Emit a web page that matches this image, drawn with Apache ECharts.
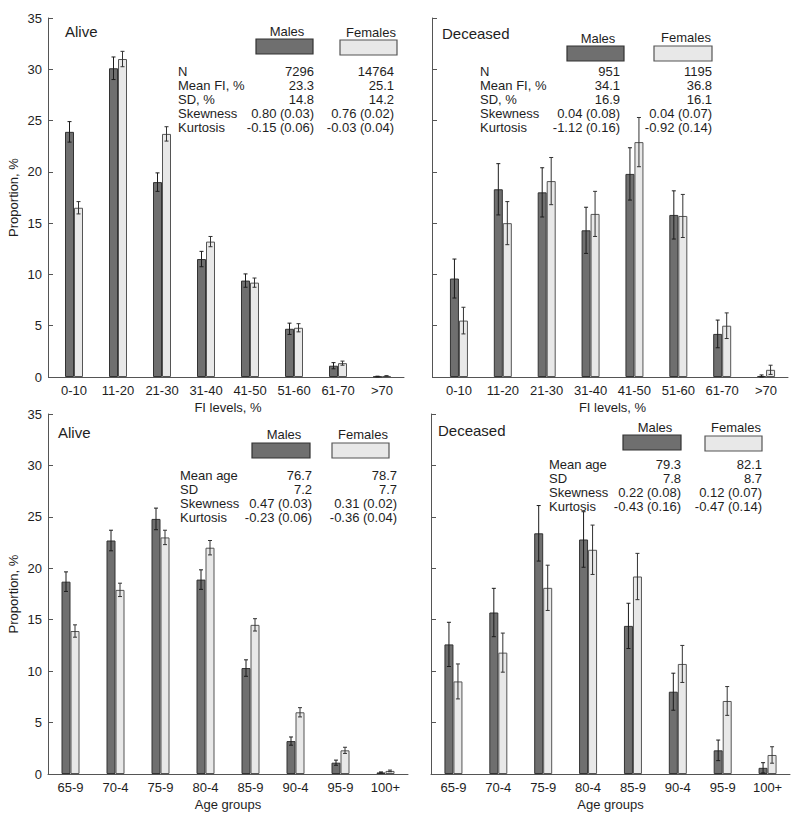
<!DOCTYPE html>
<html>
<head>
<meta charset="utf-8">
<script src="https://cdn.jsdelivr.net/npm/echarts@6/dist/echarts.min.js"></script>
<style>
html,body{margin:0;padding:0;background:#fff;}
#chart{width:800px;height:821px;}
</style>
</head>
<body>
<div id="chart"></div>
<script>
// ---------- Data ----------
const fiCategories = ['0-10','11-20','21-30','31-40','41-50','51-60','61-70','>70'];
const ageCategories = ['65-9','70-4','75-9','80-4','85-9','90-4','95-9','100+'];
const yTicks = [0,5,10,15,20,25,30,35];

// Panel A: Alive by FI level
const aliveFiMale      = [23.9, 30.1, 19.0, 11.5, 9.4, 4.7, 1.1, 0.05];
const aliveFiMaleErr   = [1.0, 1.1, 0.9, 0.75, 0.65, 0.55, 0.3, 0.03];
const aliveFiFemale    = [16.5, 31.0, 23.7, 13.2, 9.2, 4.8, 1.35, 0.1];
const aliveFiFemaleErr = [0.6, 0.75, 0.7, 0.5, 0.45, 0.4, 0.2, 0.03];

// Panel B: Deceased by FI level
const deadFiMale      = [9.6, 18.3, 18.0, 14.3, 19.8, 15.8, 4.2, 0.1];
const deadFiMaleErr   = [1.9, 2.5, 2.4, 2.25, 2.55, 2.35, 1.35, 0.1];
const deadFiFemale    = [5.5, 15.0, 19.1, 15.9, 22.9, 15.7, 5.0, 0.7];
const deadFiFemaleErr = [1.3, 2.1, 2.3, 2.2, 2.4, 2.1, 1.25, 0.45];

// Panel C: Alive by age group
const aliveAgeMale      = [18.7, 22.7, 24.8, 18.9, 10.3, 3.2, 1.1, 0.15];
const aliveAgeMaleErr   = [0.95, 1.0, 1.05, 0.95, 0.8, 0.4, 0.25, 0.05];
const aliveAgeFemale    = [13.9, 17.9, 23.0, 22.0, 14.5, 6.0, 2.3, 0.3];
const aliveAgeFemaleErr = [0.6, 0.65, 0.7, 0.7, 0.6, 0.45, 0.3, 0.08];

// Panel D: Deceased by age group
const deadAgeMale      = [12.6, 15.7, 23.4, 22.8, 14.4, 8.0, 2.3, 0.6];
const deadAgeMaleErr   = [2.15, 2.35, 2.7, 2.7, 2.2, 1.8, 1.0, 0.5];
const deadAgeFemale    = [9.0, 11.8, 18.1, 21.8, 19.2, 10.7, 7.1, 1.85];
const deadAgeFemaleErr = [1.7, 1.9, 2.2, 2.4, 2.25, 1.8, 1.4, 0.8];

// Stats tables
const fiStatLabels = ['N','Mean FI, %','SD, %','Skewness','Kurtosis'];
const aliveFiStatsMale   = ['7296','23.3','14.8','0.80 (0.03)','-0.15 (0.06)'];
const aliveFiStatsFemale = ['14764','25.1','14.2','0.76 (0.02)','-0.03 (0.04)'];
const deadFiStatsMale    = ['951','34.1','16.9','0.04 (0.08)','-1.12 (0.16)'];
const deadFiStatsFemale  = ['1195','36.8','16.1','0.04 (0.07)','-0.92 (0.14)'];
const ageStatLabels = ['Mean age','SD','Skewness','Kurtosis'];
const aliveAgeStatsMale   = ['76.7','7.2','0.47 (0.03)','-0.23 (0.06)'];
const aliveAgeStatsFemale = ['78.7','7.7','0.31 (0.02)','-0.36 (0.04)'];
const deadAgeStatsMale    = ['79.3','7.8','0.22 (0.08)','-0.43 (0.16)'];
const deadAgeStatsFemale  = ['82.1','8.7','0.12 (0.07)','-0.47 (0.14)'];

const panelTitles = ['Alive','Deceased','Alive','Deceased'];
const xNames = ['FI levels, %','FI levels, %','Age groups','Age groups'];
const yName = 'Proportion, %';
const legendNames = ['Males','Females'];

// ---------- Styles ----------
const FONT = '"Liberation Sans", Arial, sans-serif';
const TXT = '#1e1e1e';
const AX = '#555';
const MALE_FILL = '#6f6f6f', MALE_EDGE = '#333';
const FEM_FILL = '#e8e8e8', FEM_EDGE = '#555';
const BW = 9;

const grids = [
  {left: 52, top: 18, width: 352, height: 359},
  {left: 437, top: 18, width: 351, height: 359},
  {left: 48, top: 414, width: 360, height: 360},
  {left: 431, top: 414, width: 359, height: 360}
];
const yOffsets = [4, 5, 0, 0];

const panels = [
  {cats: fiCategories, m: aliveFiMale, me: aliveFiMaleErr, f: aliveFiFemale, fe: aliveFiFemaleErr},
  {cats: fiCategories, m: deadFiMale, me: deadFiMaleErr, f: deadFiFemale, fe: deadFiFemaleErr},
  {cats: ageCategories, m: aliveAgeMale, me: aliveAgeMaleErr, f: aliveAgeFemale, fe: aliveAgeFemaleErr},
  {cats: ageCategories, m: deadAgeMale, me: deadAgeMaleErr, f: deadAgeFemale, fe: deadAgeFemaleErr}
];

function errRender(side, color){
  return function(params, api){
    const i = api.value(0), v = api.value(1), e = api.value(2);
    const hi = api.coord([i, v + e]);
    const lo = api.coord([i, Math.max(0, v - e)]);
    const x = hi[0] + side * BW / 2;
    const st = {stroke: color, lineWidth: 1};
    return {type: 'group', children: [
      {type: 'line', shape: {x1: x, y1: hi[1], x2: x, y2: lo[1]}, style: st},
      {type: 'line', shape: {x1: x - 2, y1: hi[1], x2: x + 2, y2: hi[1]}, style: st},
      {type: 'line', shape: {x1: x - 2, y1: lo[1], x2: x + 2, y2: lo[1]}, style: st}
    ]};
  };
}

const xAxes = [], yAxes = [], series = [];
panels.forEach((p, k) => {
  xAxes.push({
    type: 'category', gridIndex: k, data: p.cats, boundaryGap: true,
    axisLine: {lineStyle: {color: AX, width: 1}}, axisTick: {show: false},
    axisLabel: {color: TXT, fontSize: 13, fontFamily: FONT, margin: 7, interval: 0},
    name: xNames[k], nameLocation: 'middle', nameGap: 24,
    nameTextStyle: {color: TXT, fontSize: 13, fontFamily: FONT}
  });
  yAxes.push({
    type: 'value', gridIndex: k, min: 0, max: 35, interval: 5, offset: yOffsets[k],
    splitLine: {show: false},
    axisLine: {show: true, lineStyle: {color: AX, width: 1}},
    axisTick: {show: true, inside: true, length: 5, lineStyle: {color: AX}},
    axisLabel: {show: k % 2 === 0, color: TXT, fontSize: 13, fontFamily: FONT, margin: 6},
    name: k % 2 === 0 ? yName : '', nameLocation: 'middle', nameGap: 28,
    nameTextStyle: {color: TXT, fontSize: 13, fontFamily: FONT}
  });
  series.push({
    type: 'bar', xAxisIndex: k, yAxisIndex: k, data: p.m, barWidth: BW, barGap: '0%',
    itemStyle: {color: MALE_FILL, borderColor: MALE_EDGE, borderWidth: 1}, silent: true
  });
  series.push({
    type: 'bar', xAxisIndex: k, yAxisIndex: k, data: p.f, barWidth: BW, barGap: '0%',
    itemStyle: {color: FEM_FILL, borderColor: FEM_EDGE, borderWidth: 1}, silent: true
  });
  series.push({
    type: 'custom', xAxisIndex: k, yAxisIndex: k, silent: true, z: 5,
    renderItem: errRender(-1, '#1c1c1c'),
    data: p.m.map((v, i) => [i, v, p.me[i]])
  });
  series.push({
    type: 'custom', xAxisIndex: k, yAxisIndex: k, silent: true, z: 5,
    renderItem: errRender(1, '#333'),
    data: p.f.map((v, i) => [i, v, p.fe[i]])
  });
});

// ---------- Annotation layouts (positions only) ----------
const layouts = [
  {title: [65, 31], mLab: [287, 31], mBox: [256, 39, 57, 15], fLab: [371, 32], fBox: [340, 40, 57, 15],
   lx: 178, mx: 314, fx: 394, y0: 71, labels: fiStatLabels, mv: aliveFiStatsMale, fv: aliveFiStatsFemale},
  {title: [442, 33], mLab: [598, 38], mBox: [567, 46, 57, 15], fLab: [686, 37], fBox: [654, 46, 58, 15],
   lx: 480, mx: 620, fx: 712, y0: 71, labels: fiStatLabels, mv: deadFiStatsMale, fv: deadFiStatsFemale},
  {title: [58, 432], mLab: [284, 434], mBox: [252, 443, 58, 15], fLab: [363, 434], fBox: [332, 443, 57, 15],
   lx: 180, mx: 312, fx: 397, y0: 475, labels: ageStatLabels, mv: aliveAgeStatsMale, fv: aliveAgeStatsFemale},
  {title: [438, 430], mLab: [655, 427], mBox: [623, 435, 58, 15], fLab: [736, 427], fBox: [705, 436, 57, 15],
   lx: 549, mx: 681, fx: 762, y0: 464, labels: ageStatLabels, mv: deadAgeStatsMale, fv: deadAgeStatsFemale}
];
const ROW = 14.1;
const graphics = [];
function txt(x, y, s, align, size){
  return {type: 'text', x: x, y: y, silent: true,
    style: {text: s, fill: TXT, font: (size || 13) + 'px ' + FONT, textAlign: align || 'left', textVerticalAlign: 'middle'}};
}
layouts.forEach((L, k) => {
  graphics.push(txt(L.title[0], L.title[1], panelTitles[k], 'left', 15));
  graphics.push(txt(L.mLab[0], L.mLab[1], legendNames[0], 'center'));
  graphics.push(txt(L.fLab[0], L.fLab[1], legendNames[1], 'center'));
  graphics.push({type: 'rect', silent: true, shape: {x: L.mBox[0], y: L.mBox[1], width: L.mBox[2], height: L.mBox[3]},
    style: {fill: MALE_FILL, stroke: MALE_EDGE, lineWidth: 1.2}});
  graphics.push({type: 'rect', silent: true, shape: {x: L.fBox[0], y: L.fBox[1], width: L.fBox[2], height: L.fBox[3]},
    style: {fill: FEM_FILL, stroke: FEM_EDGE, lineWidth: 1.2}});
  L.labels.forEach((lab, r) => {
    const y = L.y0 + r * ROW;
    graphics.push(txt(L.lx, y, lab, 'left'));
    graphics.push(txt(L.mx, y, L.mv[r], 'right'));
    graphics.push(txt(L.fx, y, L.fv[r], 'right'));
  });
});

const chart = echarts.init(document.getElementById('chart'), null, {renderer: 'svg'});
chart.setOption({
  animation: false,
  backgroundColor: '#fff',
  grid: grids,
  xAxis: xAxes,
  yAxis: yAxes,
  series: series,
  graphic: graphics
});
</script>
</body>
</html>
